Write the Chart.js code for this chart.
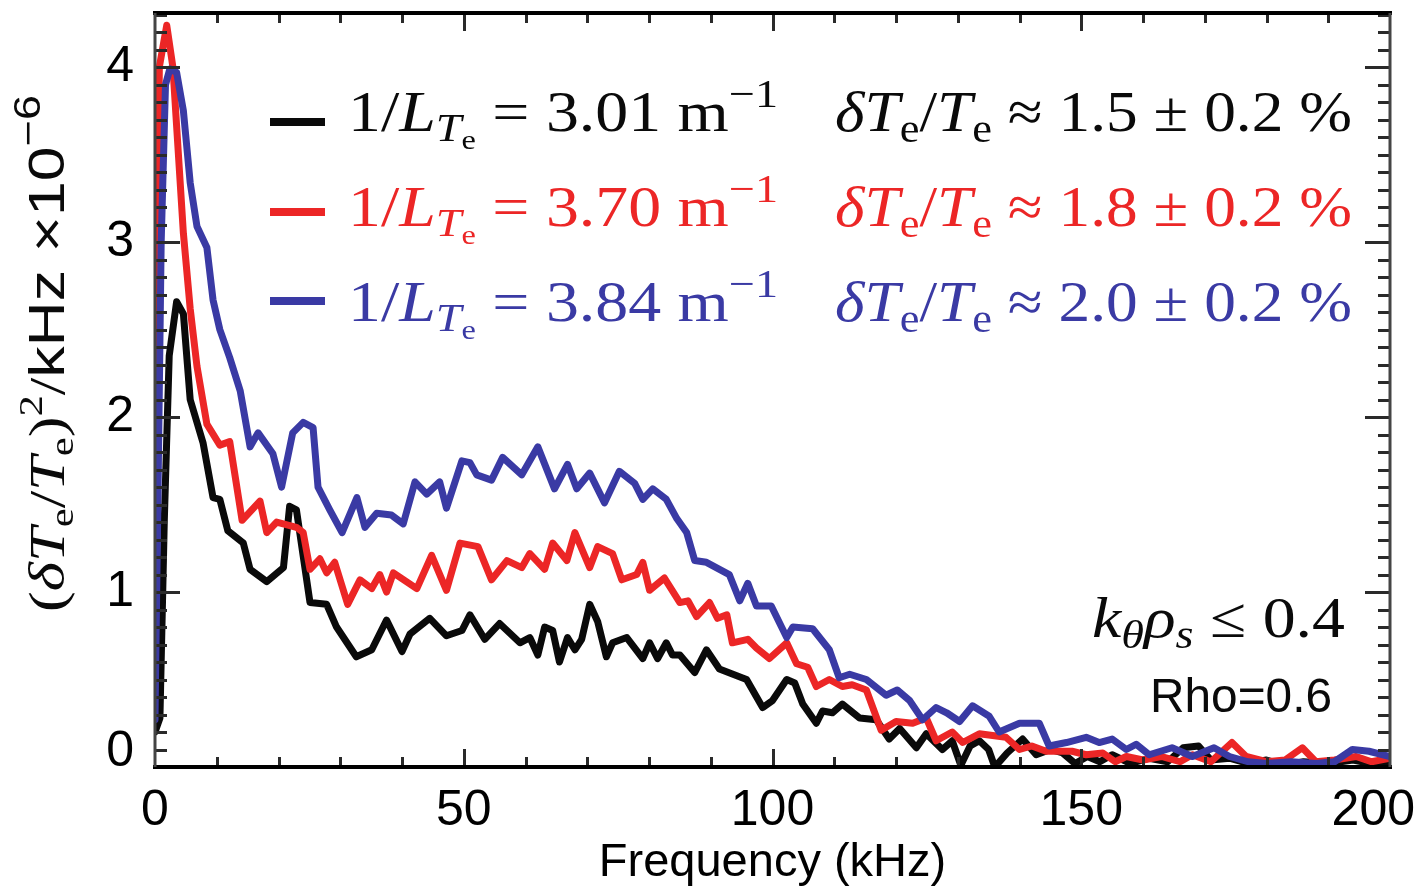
<!DOCTYPE html>
<html>
<head>
<meta charset="utf-8">
<script src="https://cdn.jsdelivr.net/npm/chart.js@4.4.1/dist/chart.umd.min.js"></script>
<style>
  html, body { margin: 0; padding: 0; background: #fff; }
  #chart { display: block; }
</style>
</head>
<body>
<canvas id="chart" width="1418" height="891" style="width:1418px;height:891px"></canvas>
<script>
// tick labels
const xTicks = [0, 50, 100, 150, 200];
const yTicks = [0, 1, 2, 3, 4];

// legend / annotation values
const gradients = ['3.01', '3.70', '3.84'];
const fluctuations = ['1.5', '1.8', '2.0'];
const fluctError = '0.2';

// spectra: frequency (kHz) and power (x1e-6 /kHz)
const blackFreq = [0, 0.8, 1.5, 2.3, 3.5, 4.6, 5.7, 7.8, 9.4, 10.5, 11.8, 14.3, 15.4, 18.1, 20.8, 21.8, 22.9, 25.1, 27.8, 29.4,
  32.6, 35.1, 37.5, 40, 41.3, 44.5, 47.2, 49.7, 51, 53.4, 55.8, 59.1, 60.7, 62, 63.1, 64.4, 65.5, 66.8, 68, 69.1,
  70.4, 71.7, 73.1, 74.1, 76.4, 79, 80.1, 81.4, 82.8, 83.8, 85, 87.4, 89.3, 91.4, 95.8, 98.4, 100, 102.3, 103.6, 104.9,
  107.1, 108.1, 109.7, 111.3, 114.1, 116.8, 118.9, 120.6, 123.3, 124.9, 127.5, 129.1, 130.5, 132, 133.5, 135, 136, 138, 140.5, 142.7,
  145, 147, 149, 151, 153, 155, 158, 161, 164, 166.5, 169, 171, 174, 177, 180, 183, 186, 190, 194, 197, 200];
const blackPower = [0.20, 0.28, 1.4, 2.35, 2.66, 2.59, 2.10, 1.85, 1.54, 1.53, 1.35, 1.28, 1.13, 1.06, 1.14, 1.49, 1.47, 0.94, 0.93, 0.80,
  0.63, 0.67, 0.84, 0.66, 0.76, 0.85, 0.75, 0.78, 0.87, 0.73, 0.82, 0.71, 0.74, 0.64, 0.80, 0.78, 0.60, 0.74, 0.67, 0.73,
  0.93, 0.83, 0.63, 0.71, 0.74, 0.62, 0.71, 0.62, 0.71, 0.64, 0.64, 0.54, 0.67, 0.56, 0.50, 0.34, 0.38, 0.50, 0.48, 0.36,
  0.25, 0.32, 0.31, 0.36, 0.28, 0.27, 0.16, 0.22, 0.11, 0.19, 0.10, 0.15, 0.01, 0.12, 0.15, 0.10, 0.00, 0.08, 0.16, 0.07,
  0.10, 0.08, 0.02, 0.06, 0.03, 0.07, 0.02, 0.05, 0.03, 0.11, 0.12, 0.04, 0.05, 0.02, 0.04, 0.01, 0.03, 0.02, 0.04, 0.02, 0.03];

const redFreq = [0, 0.7, 1.9, 2.9, 4.6, 5.7, 6.8, 8.4, 10.5, 12.1, 14.1, 17, 18.1, 19.7, 22.9, 24, 25.1, 26.7, 27.8, 29.1,
  31.2, 33.2, 35.1, 36.4, 37.5, 38.6, 42.4, 44.8, 47.2, 49.4, 52.3, 54.5, 57, 59.4, 60.7, 63.1, 64.4, 66.7, 68, 70.4,
  71.7, 74.1, 75.6, 78, 79, 80.1, 82.5, 85, 86.3, 87.7, 89.8, 91.1, 92.6, 93.5, 96, 97.4, 99.5, 102.3, 103.9, 105.7,
  107.1, 109.2, 111.3, 112.9, 115.2, 117.6, 120, 122.7, 124.9, 126.5, 129.1, 130.8, 133.5, 137.8, 140, 142, 144.3, 148.5, 150.8, 153.5,
  155.5, 157.3, 160, 163, 166, 168, 171, 174.4, 176.7, 180, 183, 185.8, 188, 191, 194.5, 197, 200];
const redPower = [0.85, 4.0, 4.24, 4.0, 3.05, 2.62, 2.29, 1.96, 1.84, 1.86, 1.41, 1.52, 1.34, 1.40, 1.37, 1.34, 1.13, 1.19, 1.11, 1.17,
  0.93, 1.07, 1.02, 1.10, 1.00, 1.11, 1.02, 1.21, 1.01, 1.28, 1.26, 1.07, 1.18, 1.14, 1.22, 1.13, 1.28, 1.18, 1.34, 1.14,
  1.26, 1.22, 1.07, 1.10, 1.17, 1.01, 1.08, 0.94, 0.95, 0.86, 0.94, 0.85, 0.87, 0.71, 0.73, 0.68, 0.62, 0.71, 0.59, 0.57,
  0.46, 0.50, 0.46, 0.47, 0.44, 0.21, 0.26, 0.25, 0.28, 0.15, 0.20, 0.14, 0.19, 0.17, 0.10, 0.12, 0.09, 0.09, 0.07, 0.08,
  0.03, 0.06, 0.04, 0.06, 0.03, 0.07, 0.03, 0.14, 0.06, 0.03, 0.04, 0.11, 0.03, 0.04, 0.06, 0.03, 0.05];

const blueFreq = [0, 0.5, 1.0, 1.7, 2.4, 3.5, 4.6, 5.7, 6.8, 8.4, 9.4, 10.5, 12.1, 13.8, 15.4, 16.7, 19.1, 20.5, 22.3, 24,
  25.6, 26.4, 28.3, 30.3, 32.7, 34, 35.9, 38.3, 40.2, 42.1, 44, 46.1, 47.2, 49.7, 51, 52.1, 54.5, 56.3, 59.4, 62,
  64.7, 66.8, 68.3, 70.4, 72.8, 75.2, 77.7, 79, 80.6, 82.8, 84.5, 86.1, 87.4, 89.3, 93, 94.7, 96, 97.4, 99.8, 102.3,
  103.3, 106.5, 109.2, 110.8, 112.5, 115.2, 118.4, 120.2, 122.2, 124.3, 126.5, 128.2, 130.3, 132.4, 135.1, 136.7, 140, 143.2, 144.8, 147.6,
  150.8, 152.9, 155, 157.3, 158.9, 161, 164.7, 168, 171.5, 174, 177, 180, 184, 188, 191, 193.9, 196.6, 200];
const bluePower = [0.27, 1.6, 3.0, 3.9, 3.99, 3.97, 3.75, 3.34, 3.09, 2.97, 2.67, 2.50, 2.34, 2.15, 1.83, 1.91, 1.79, 1.60, 1.91, 1.97,
  1.94, 1.60, 1.47, 1.34, 1.54, 1.37, 1.45, 1.44, 1.39, 1.63, 1.56, 1.63, 1.48, 1.75, 1.74, 1.67, 1.64, 1.77, 1.67, 1.83,
  1.59, 1.73, 1.59, 1.68, 1.51, 1.69, 1.62, 1.53, 1.59, 1.53, 1.42, 1.34, 1.18, 1.17, 1.10, 0.95, 1.05, 0.92, 0.92, 0.74,
  0.80, 0.79, 0.67, 0.51, 0.53, 0.50, 0.41, 0.44, 0.38, 0.27, 0.34, 0.31, 0.26, 0.35, 0.29, 0.20, 0.25, 0.25, 0.12, 0.14,
  0.17, 0.14, 0.16, 0.10, 0.13, 0.07, 0.11, 0.06, 0.11, 0.06, 0.03, 0.02, 0.03, 0.02, 0.03, 0.10, 0.09, 0.06];

const BLACK = '#0a0a0a';
const RED = 'rgb(236, 38, 38)';
const BLUE = 'rgb(58, 58, 164)';
const seriesColors = [BLACK, RED, BLUE];

const SERIF = '"Liberation Serif", "DejaVu Serif", serif';
const SANS = '"Liberation Sans", Arial, sans-serif';

function pts(freq, power) {
  return freq.map((f, i) => ({ x: f, y: power[i] }));
}

function font(size, family, italic) {
  return (italic ? 'italic ' : '') + size + 'px ' + family;
}

// draw a row of text pieces, stretched along the baseline to a target length
function drawRuns(ctx, runs, x, y, targetW, color, angle) {
  let w = 0;
  runs.forEach(r => {
    ctx.font = r.font;
    r.w = ctx.measureText(r.t).width;
    w += r.w;
  });
  const k = targetW ? targetW / w : 1;
  ctx.save();
  ctx.translate(x, y);
  if (angle) ctx.rotate(angle);
  ctx.scale(k, 1);
  ctx.fillStyle = color;
  ctx.textBaseline = 'alphabetic';
  ctx.textAlign = 'left';
  let cx = 0;
  runs.forEach(r => {
    ctx.font = r.font;
    ctx.fillText(r.t, cx, r.dy || 0);
    cx += r.w;
  });
  ctx.restore();
}

const framePlugin = {
  id: 'frame',
  afterDatasetsDraw(chart) {
    const { ctx, chartArea: a, scales: { x, y } } = chart;
    ctx.save();
    ctx.strokeStyle = '#2a2a2a';
    ctx.lineWidth = 3;
    ctx.lineCap = 'butt';
    ctx.beginPath();
    for (let v = 10; v < 200; v += 10) {
      const px = Math.round(x.getPixelForValue(v)) + 0.5;
      const len = v % 50 === 0 ? 18 : 10;
      ctx.moveTo(px, a.bottom); ctx.lineTo(px, a.bottom - len);
      ctx.moveTo(px, a.top); ctx.lineTo(px, a.top + len);
    }
    for (let i = 1; i <= 43; i++) {
      const py = Math.round(y.getPixelForValue(i / 10)) + 0.5;
      const len = i % 10 === 0 ? 25 : 12;
      ctx.moveTo(a.left, py); ctx.lineTo(a.left + len, py);
      ctx.moveTo(a.right, py); ctx.lineTo(a.right - len, py);
    }
    ctx.stroke();
    // box
    ctx.lineWidth = 4;
    ctx.strokeStyle = '#000';
    ctx.beginPath();
    ctx.moveTo(a.left - 2, a.top); ctx.lineTo(a.right + 2, a.top);
    ctx.moveTo(a.left - 2, a.bottom); ctx.lineTo(a.right + 2, a.bottom);
    ctx.stroke();
    ctx.lineWidth = 3;
    ctx.strokeStyle = '#444';
    ctx.beginPath();
    ctx.moveTo(a.left, a.top); ctx.lineTo(a.left, a.bottom);
    ctx.moveTo(a.right, a.top); ctx.lineTo(a.right, a.bottom);
    ctx.stroke();
    ctx.restore();
  }
};

const textPlugin = {
  id: 'labels',
  afterDraw(chart) {
    const { ctx, scales: { x, y } } = chart;

    // tick labels, placed from the scales
    ctx.save();
    ctx.fillStyle = '#000';
    ctx.font = font(50, SANS);
    ctx.textBaseline = 'middle';
    xTicks.forEach(v => {
      const label = String(v);
      const w = ctx.measureText(label).width;
      const cx = Math.min(x.getPixelForValue(v), 1415 - w / 2);
      ctx.textAlign = 'center';
      ctx.fillText(label, cx, 811);
    });
    yTicks.forEach(v => {
      ctx.textAlign = 'right';
      ctx.fillText(String(v), 134, Math.min(y.getPixelForValue(v), 752));
    });
    ctx.restore();

    const barY = [122, 212, 301];
    const base = [131, 226, 321];
    gradients.forEach((g, i) => {
      const c = seriesColors[i];
      ctx.save();
      ctx.strokeStyle = c;
      ctx.lineWidth = 8;
      ctx.beginPath();
      ctx.moveTo(270, barY[i]); ctx.lineTo(325, barY[i]);
      ctx.stroke();
      ctx.restore();
      drawRuns(ctx, [
        { t: '1/', font: font(57, SERIF) },
        { t: 'L', font: font(57, SERIF, true) },
        { t: 'T', font: font(40, SERIF, true), dy: 10 },
        { t: 'e', font: font(28, SERIF), dy: 18 },
        { t: ' = ', font: font(57, SERIF) },
        { t: g, font: font(57, SERIF) },
        { t: ' m', font: font(57, SERIF) },
        { t: '\u22121', font: font(40, SERIF), dy: -24 }
      ], 348, base[i], 430, c);
      drawRuns(ctx, [
        { t: '\u03b4', font: font(57, SERIF, true) },
        { t: 'T', font: font(57, SERIF, true) },
        { t: 'e', font: font(40, SERIF), dy: 11 },
        { t: '/', font: font(57, SERIF) },
        { t: 'T', font: font(57, SERIF, true) },
        { t: 'e', font: font(40, SERIF), dy: 11 },
        { t: ' \u2248 ', font: font(57, SERIF) },
        { t: fluctuations[i], font: font(57, SERIF) },
        { t: ' \u00b1 ', font: font(57, SERIF) },
        { t: fluctError, font: font(57, SERIF) },
        { t: ' %', font: font(57, SERIF) }
      ], 835, base[i], 517, c);
    });

    drawRuns(ctx, [
      { t: 'k', font: font(57, SERIF, true) },
      { t: '\u03b8', font: font(40, SERIF, true), dy: 11 },
      { t: '\u03c1', font: font(57, SERIF, true) },
      { t: 's', font: font(40, SERIF, true), dy: 11 },
      { t: ' \u2264 ', font: font(57, SERIF) },
      { t: '0.4', font: font(57, SERIF) }
    ], 1092, 637, 253, BLACK);

    drawRuns(ctx, [{ t: 'Rho=0.6', font: font(48, SANS) }], 1150, 712, 182, BLACK);

    // rotated y-axis title
    drawRuns(ctx, [
      { t: '(', font: font(50, SERIF) },
      { t: '\u03b4', font: font(50, SERIF, true) },
      { t: 'T', font: font(50, SERIF, true) },
      { t: 'e', font: font(34, SERIF), dy: 9 },
      { t: '/', font: font(50, SERIF) },
      { t: 'T', font: font(50, SERIF, true) },
      { t: 'e', font: font(34, SERIF), dy: 9 },
      { t: ')', font: font(50, SERIF) },
      { t: '2', font: font(34, SERIF), dy: -22 },
      { t: '/', font: font(50, SERIF) },
      { t: 'kHz', font: font(50, SANS) },
      { t: ' \u00d7', font: font(50, SANS) },
      { t: '10', font: font(50, SANS) },
      { t: '\u22126', font: font(36, SANS), dy: -24 }
    ], 64, 612, 517, BLACK, -Math.PI / 2);
  }
};

const ctx = document.getElementById('chart').getContext('2d');
new Chart(ctx, {
  type: 'line',
  data: {
    datasets: [
      { label: 'blue', data: pts(blueFreq, bluePower), borderColor: BLUE },
      { label: 'red', data: pts(redFreq, redPower), borderColor: RED },
      { label: 'black', data: pts(blackFreq, blackPower), borderColor: BLACK }
    ].map(d => Object.assign(d, {
      borderWidth: 7, pointRadius: 0, tension: 0, fill: false, borderJoinStyle: 'round', borderCapStyle: 'round'
    }))
  },
  options: {
    responsive: false,
    animation: false,
    layout: { padding: { top: 13, right: 28, left: 0, bottom: 0 } },
    plugins: { legend: { display: false }, tooltip: { enabled: false } },
    scales: {
      x: {
        type: 'linear', min: 0, max: 200,
        afterBuildTicks: s => { s.ticks = xTicks.map(v => ({ value: v })); },
        afterFit: s => { s.height = 124; s.paddingLeft = 0; s.paddingRight = 0; },
        grid: { display: false, drawTicks: false },
        border: { display: false },
        ticks: { display: false },
        title: { display: true, text: 'Frequency (kHz)', color: '#000', font: { family: SANS, size: 47 }, padding: { top: 0, bottom: 0 } }
      },
      y: {
        type: 'linear', min: 0, max: 4.31,
        afterBuildTicks: s => { s.ticks = yTicks.map(v => ({ value: v })); },
        afterFit: s => { s.width = 155; s.paddingTop = 0; s.paddingBottom = 0; },
        grid: { display: false, drawTicks: false },
        border: { display: false },
        ticks: { display: false }
      }
    }
  },
  plugins: [framePlugin, textPlugin]
});
</script>
</body>
</html>
